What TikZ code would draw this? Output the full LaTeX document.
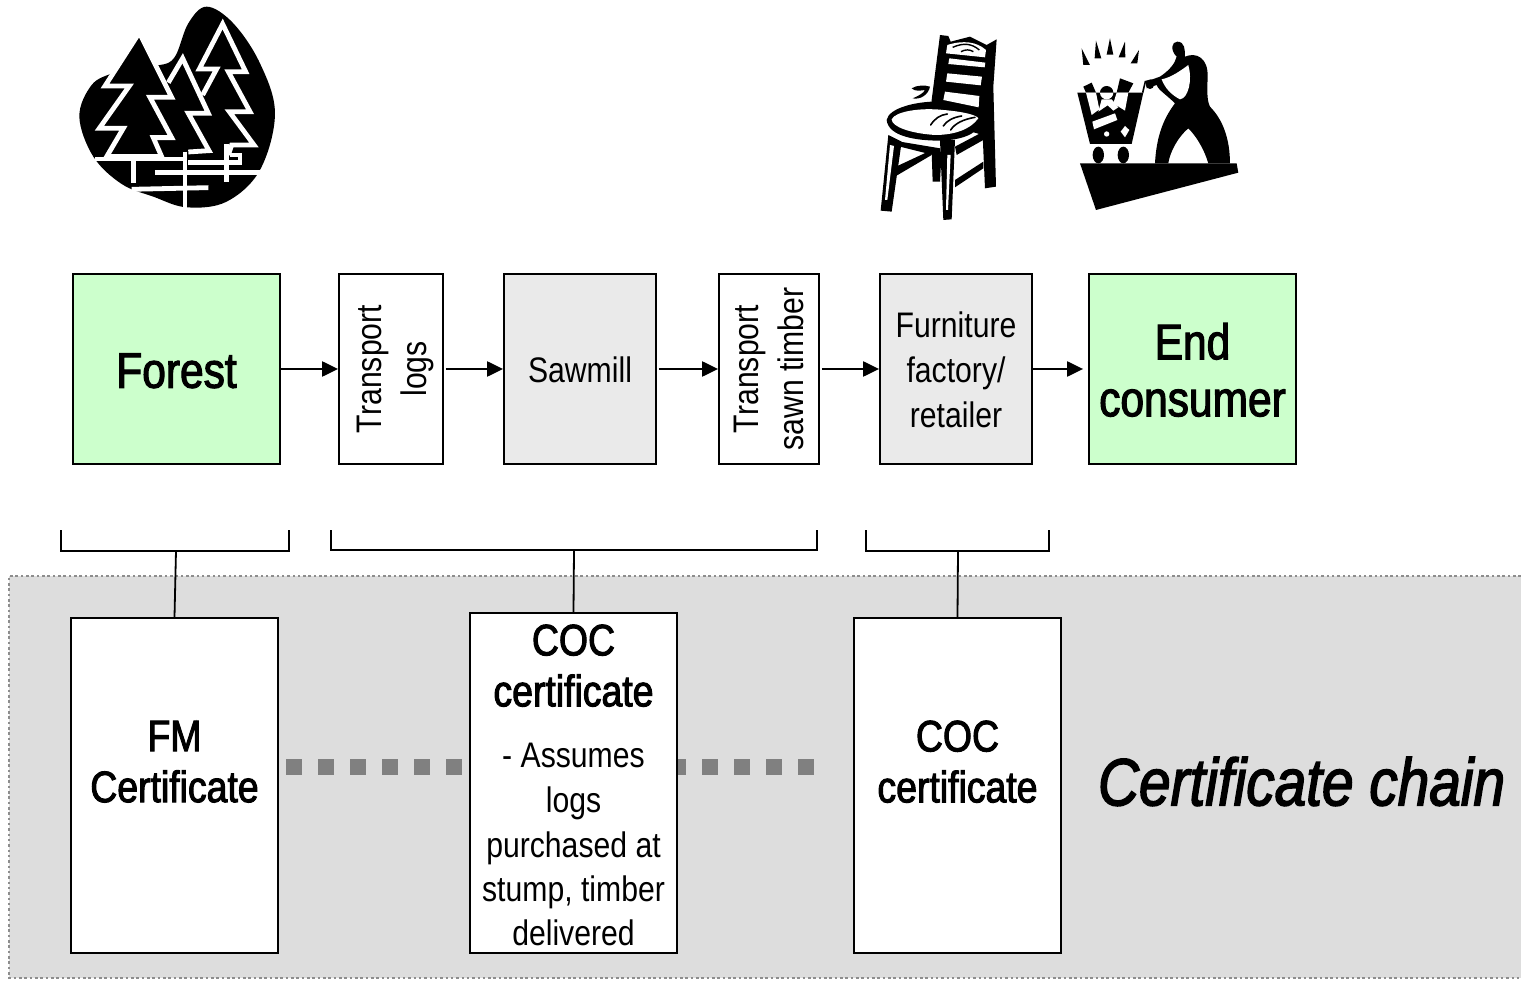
\documentclass[tikz,border=0pt]{standalone}
\usepackage{fontspec}
\setmainfont{Liberation Sans}[FakeStretch=0.85]
\newfontfamily\heavyfont{Liberation Sans}[FakeStretch=0.85,FakeBold=2.2]
\usepackage{xcolor}
\usetikzlibrary{arrows.meta, positioning}
\definecolor{stagegreen}{HTML}{CCFFCC}
\definecolor{stagegray}{HTML}{EAEAEA}
\definecolor{panelgray}{HTML}{DDDDDD}
\definecolor{chaingray}{HTML}{808080}
\newcommand{\bigbold}{\heavyfont\fontsize{50}{57}\selectfont}
\newcommand{\certbold}{\heavyfont\fontsize{44}{51}\selectfont}
\newcommand{\plaintext}{\fontsize{35.5}{45}\selectfont}
\tikzset{
    stagebox/.style={
        rectangle,
        draw=black,
        line width=1.8pt,
        minimum height=190pt,
        inner sep=0pt,
        align=center
    },
    greenbox/.style={
        stagebox,
        fill=stagegreen,
        minimum width=207pt,
        font=\bigbold
    },
    graybox/.style={
        stagebox,
        fill=stagegray,
        minimum width=152pt,
        font=\plaintext
    },
    transportbox/.style={
        rectangle,
        draw=black,
        line width=1.8pt,
        fill=white,
        rotate=90,
        minimum width=190pt,
        inner sep=0pt,
        align=center,
        font=\plaintext
    },
    certbox/.style={
        rectangle,
        draw=black,
        line width=2pt,
        fill=white,
        minimum width=207pt,
        inner sep=0pt,
        align=center,
        font=\certbold
    },
    notebox/.style={
        certbox,
        font=\plaintext
    },
    flow/.style={
        draw=black,
        line width=2.2pt,
        -{Triangle[length=16pt,width=15pt]}
    },
    bracketline/.style={
        draw=black,
        line width=1.8pt
    },
    chainline/.style={
        draw=chaingray,
        line width=16pt,
        dash pattern=on 16pt off 16pt
    },
    icon/.style={
        x=0.3333pt,
        y=-0.3333pt
    },
    treeline/.style={
        draw=white,
        line width=4.8pt,
        line join=miter
    }
}

\begin{document}
\begin{tikzpicture}[x=1pt,y=-1pt]
\useasboundingbox (0,0) rectangle (1521,981);

% Grey certificate panel
\fill[panelgray] (9,576) rectangle (1521,978);
\draw[chaingray!90, line width=2.4pt, dash pattern=on 2.6pt off 2.73pt] (1521,576) -- (9,576) -- (9,978) -- (1521,978);

% Forest icon
\begin{scope}[shift={(60,0)}, icon]
\fill[black] plot[smooth cycle, tension=0.6] coordinates {(160,218) (95,255) (58,350) (100,470) (185,552) (280,590) (380,622) (500,605) (600,510) (645,340) (600,190) (520,70) (440,20) (385,70) (345,170) (300,195) (230,190)};
% trees, back to front
\draw[treeline] (428,285) -- (470,207) -- (418,207) -- (488,72) -- (557,215) -- (505,215) -- (570,335) -- (508,335) -- (582,435) -- (515,435) -- (505,465);
\draw[treeline] (325,248) -- (368,175) -- (445,340) -- (385,340) -- (447,452) -- (385,456);
\draw[treeline, fill=black] (238,98) -- (135,258) -- (208,258) -- (118,385) -- (190,385) -- (140,470) -- (305,470) -- (280,413) -- (335,413) -- (270,292) -- (335,292) -- cycle;
% fence rails
\draw[treeline] (105,477) -- (370,477);
\draw[treeline] (510,465) -- (540,465) -- (540,487) -- (385,487);
\draw[treeline] (220,480) -- (220,548);
\draw[treeline] (215,568) -- (445,563);
\draw[treeline] (285,518) -- (600,518);
\draw[treeline] (375,455) -- (375,625);
\draw[treeline] (500,432) -- (500,545);
\end{scope}

% Chair icon
\begin{scope}[shift={(860,20)}, icon]
\fill[black] (240,45) -- (265,48) -- (272,65) -- (330,50) -- (380,75) -- (410,58) -- (400,200) -- (408,500) -- (375,505) -- (368,345) -- (215,300) -- (215,240) -- cycle;
\fill[white] (268,115) -- (376,128) -- (374,142) -- (265,132) -- cycle;
\fill[white] (262,160) -- (366,170) -- (362,196) -- (258,185) -- cycle;
\fill[white] (255,215) -- (358,228) -- (356,262) -- (250,240) -- cycle;
\fill[white] (262,75) .. controls (310,60) and (350,65) .. (378,90) -- (375,112) -- (258,100) -- cycle;
\draw[black, line width=1.4pt] (278,82) .. controls (310,68) and (335,70) .. (358,90);
\draw[black, line width=1.4pt] (303,95) .. controls (315,88) and (330,88) .. (340,95);
\fill[black] (80,300) .. controls (85,265) and (170,240) .. (260,245) .. controls (330,255) and (370,275) .. (362,310) .. controls (350,345) and (300,360) .. (240,362) .. controls (170,362) and (85,350) .. (80,300) -- cycle;
\fill[white] (95,298) .. controls (105,275) and (180,262) .. (250,270) .. controls (310,275) and (350,285) .. (355,295) .. controls (330,330) and (280,345) .. (225,345) .. controls (150,340) and (95,320) .. (95,298) -- cycle;
\draw[black, line width=1.6pt, line cap=round] (212,315) .. controls (225,295) and (240,285) .. (262,282);
\draw[black, line width=1.6pt, line cap=round] (250,318) .. controls (260,302) and (280,292) .. (305,288);
\draw[black, line width=1.6pt, line cap=round] (272,330) .. controls (285,310) and (310,298) .. (345,292);
\fill[black] (155,205) .. controls (170,195) and (195,195) .. (210,200) .. controls (205,225) and (180,240) .. (158,235) .. controls (175,228) and (190,220) .. (195,210) .. controls (180,212) and (165,215) .. (155,205) -- cycle;
% legs
\fill[black] (85,345) -- (125,365) -- (95,575) -- (62,572) -- cycle;
\fill[white] (90,375) -- (102,378) -- (82,540) -- (75,540) -- cycle;
\fill[black] (240,360) -- (285,360) -- (275,598) -- (250,600) -- cycle;
\fill[white] (262,405) -- (272,405) -- (264,570) -- (258,570) -- cycle;
\fill[black] (215,395) -- (245,395) -- (240,485) -- (218,485) -- cycle;
\fill[black] (108,440) -- (215,390) -- (215,405) -- (108,468) -- cycle;
\fill[black] (120,365) -- (240,385) -- (240,410) -- (120,380) -- cycle;
\fill[black] (285,380) -- (370,335) -- (370,360) -- (290,405) -- cycle;
\fill[black] (285,480) -- (370,425) -- (370,445) -- (285,502) -- cycle;
\end{scope}

% Shopper icon
\begin{scope}[shift={(860,20)}, icon]
\fill[black] (660,430) -- (1130,430) -- (1135,458) -- (708,570) -- cycle;
\foreach \tipx/\tipy/\basex/\basey in {665/85/680/135, 708/62/714/115, 750/55/750/104, 795/65/786/112, 837/90/822/130}
    \fill[black] (\tipx,\tipy) -- ({\basex-10},{\basey}) -- ({\basex+10},{\basey}) -- cycle;
% figure
\fill[black] (885,430) .. controls (890,340) and (915,290) .. (945,250) .. controls (920,225) and (895,210) .. (890,195) -- (860,205) -- (858,185) -- (900,170) .. controls (930,150) and (945,130) .. (950,110) .. controls (930,90) and (935,65) .. (952,65) .. controls (975,65) and (975,90) .. (975,110) .. controls (1010,95) and (1045,115) .. (1043,170) .. controls (1042,210) and (1040,240) .. (1050,260) .. controls (1090,300) and (1110,360) .. (1110,430) -- (1045,430) .. controls (1030,380) and (1005,345) .. (985,325) .. controls (955,350) and (930,395) .. (925,430) -- cycle;
\fill[white] (905,178) .. controls (935,172) and (965,150) .. (985,135) .. controls (998,180) and (985,235) .. (960,238) .. controls (935,225) and (915,205) .. (905,178) -- cycle;
\fill[black] (870,195) circle[radius=12];
\end{scope}

% Cart
\begin{scope}[shift={(1070,70)}, icon]
\fill[black] (22,68) -- (220,68) -- (185,222) -- (60,222) -- cycle;
\fill[black] (40,50) -- (65,38) -- (78,68) -- (48,68) -- cycle;
\fill[black] (150,25) -- (190,40) -- (175,68) -- (140,68) -- cycle;
\fill[black] (110,68) circle[radius=20];
\fill[white] (48,68) -- (78,68) -- (88,118) -- (65,135) -- cycle;
\fill[white] (140,68) -- (175,68) -- (165,122) -- (130,100) -- cycle;
\fill[white] (130,68) arc[start angle=0, end angle=180, radius=20] -- cycle;
\fill[white] (95,88) -- (125,88) -- (145,112) -- (130,122) -- (113,106) -- (85,125) -- cycle;
\fill[white] (67,155) -- (135,130) -- (142,150) -- (72,178) -- cycle;
\fill[white] (110,192) circle[radius=8];
\fill[white] (152,185) -- (165,168) -- (178,180) -- (165,202) -- cycle;
\draw[black, line width=1.6pt] (218,68) -- (226,35) -- (245,30);
\fill[black] (85,255) ellipse[x radius=17, y radius=25];
\fill[black] (160,255) ellipse[x radius=17, y radius=25];
\end{scope}

% Process stages
\node[greenbox] (forest) at (176.5,369) {\rule{0pt}{38pt}Forest};
\node[transportbox, minimum height=104pt] (logs) at (391,369) {\rule{0pt}{34pt}Transport\\logs};
\node[graybox] (sawmill) at (580,369) {\rule{0pt}{28pt}Sawmill};
\node[transportbox, minimum height=100pt] (timber) at (769,369) {Transport\\sawn timber};
\node[graybox] (factory) at (956,369) {\rule{0pt}{28pt}Furniture\\factory/\\retailer};
\node[greenbox] (consumer) at (1192.5,369) {\rule{0pt}{38pt}End\\consumer};

% Flow arrows
\draw[flow] (forest) -- (logs);
\draw[flow, shorten <=2pt] (logs) -- (sawmill);
\draw[flow, shorten <=2pt] (sawmill) -- (timber);
\draw[flow, shorten <=2pt] (timber) -- (factory);
\draw[flow, shorten >=5pt] (factory) -- (consumer);

% Brackets
\coordinate (bracketA) at (61,530);
\coordinate (bracketB) at (331,530);
\coordinate (bracketC) at (866,530);
\draw[bracketline] (bracketA) -- ++(0,21) -- ++(228,0) -- ++(0,-21);
\draw[bracketline] (bracketB) -- ++(0,20) -- ++(486,0) -- ++(0,-20);
\draw[bracketline] (bracketC) -- ++(0,21) -- ++(183,0) -- ++(0,-21);

% Chain behind the certificates
\coordinate (chainstart) at (286,767);
\coordinate (chainend) at (814,767);
\draw[chainline] (chainstart) -- (chainend);

% Certificates
\node[certbox, minimum height=335pt] (fmcert) at (174.5,785.5) {FM\\Certificate\\[-3pt]~};
\node[notebox, minimum height=340pt] (logcert) at (573.5,783) {\rule{0pt}{35pt}{\certbold COC}\\[6pt]{\certbold certificate}\\[16pt]- Assumes\\logs\\purchased at\\[-1pt]stump, timber\\[-1pt]delivered};
\node[certbox, minimum height=335pt] (factorycert) at (957.5,785.5) {COC\\certificate\\[-3pt]~};
\node[right=32.5pt of factorycert.east, yshift=4pt, font=\heavyfont\fontsize{66.8}{70}\selectfont\itshape] (chainlabel) {Certificate chain};

% Stems
\coordinate (stemA) at (176,551);
\coordinate (stemB) at (574,550);
\coordinate (stemC) at (958,551);
\draw[bracketline] (stemA) -- (fmcert.north);
\draw[bracketline] (stemB) -- (logcert.north);
\draw[bracketline] (stemC) -- (factorycert.north);

\end{tikzpicture}
\end{document}
